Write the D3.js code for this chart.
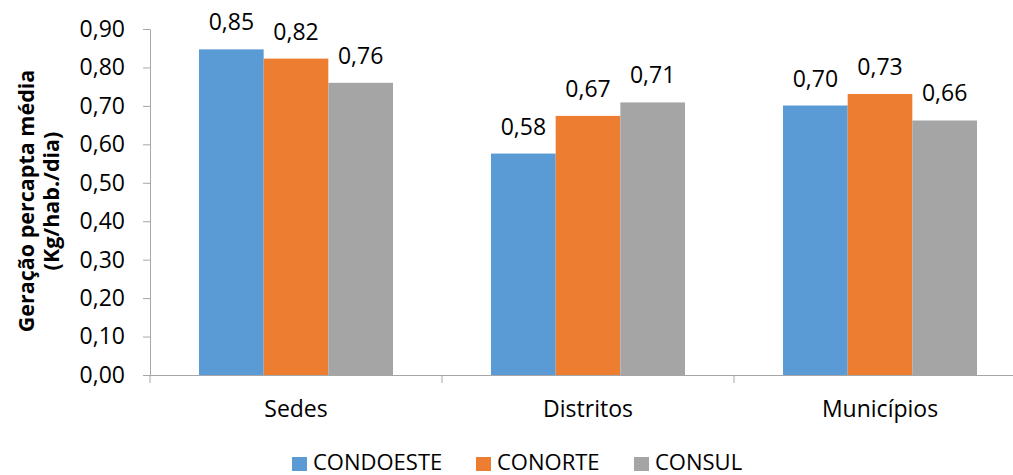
<!DOCTYPE html>
<html><head><meta charset="utf-8">
<script src="https://cdn.jsdelivr.net/npm/d3@7"></script>
<style>body{margin:0;background:#fff}svg{display:block;font-family:"Open Sans",sans-serif}</style>
</head><body>
<svg id="c" width="1013" height="475"></svg>
<script>
const categories = ["Sedes", "Distritos", "Municípios"];
const seriesNames = ["CONDOESTE", "CONORTE", "CONSUL"];
const condoeste = [0.847, 0.576, 0.701];
const conorte = [0.823, 0.674, 0.731];
const consul = [0.760, 0.709, 0.662];
const yTicks = [0, 0.1, 0.2, 0.3, 0.4, 0.5, 0.6, 0.7, 0.8, 0.9];
const colors = ["#5B9BD5", "#ED7D31", "#A5A5A5"];

const values = [condoeste, conorte, consul];
const svg = d3.select("#c");
const fmt = v => v.toFixed(2).replace(".", ",");
const axisColor = "#A6A6A6";

const x0 = d3.scaleBand().domain(categories).range([150, 1026]).paddingInner(0).paddingOuter(0);
const x1 = d3.scaleBand().domain(seriesNames).range([0, x0.bandwidth()]).paddingInner(0).paddingOuter(0.758);
const y = d3.scaleLinear().domain([0, 0.9]).range([375, 29]);

// y axis
const ya = svg.append("g").attr("transform", "translate(150,0)")
  .call(d3.axisLeft(y).tickValues(yTicks).tickFormat(fmt).tickSize(7).tickSizeOuter(0));
ya.select(".domain").attr("stroke", axisColor);
ya.selectAll(".tick line").attr("stroke", axisColor);
ya.selectAll(".tick text").attr("font-size", 23).attr("fill", "#000").attr("x", -25)
  .attr("font-family", "Open Sans");

// bars
categories.forEach((c, i) => {
  const g = svg.append("g").attr("transform", `translate(${x0(c)},0)`);
  seriesNames.forEach((s, j) => {
    const v = values[j][i];
    g.append("rect").attr("x", x1(s)).attr("y", y(v)).attr("width", x1.bandwidth())
      .attr("height", y(0) - y(v)).attr("fill", colors[j]);
    g.append("text").attr("x", x1(s) + x1.bandwidth() / 2).attr("y", y(v) - 19)
      .attr("text-anchor", "middle").attr("font-size", 23).attr("fill", "#000").text(fmt(v));
  });
});

// x axis
const xa = svg.append("g").attr("transform", "translate(0,375)")
  .call(d3.axisBottom(x0).tickSize(0).tickSizeOuter(0));
xa.select(".domain").attr("stroke", axisColor);
xa.selectAll(".tick text").attr("font-size", 23).attr("fill", "#000").attr("y", 26)
  .attr("font-family", "Open Sans");
const bounds = categories.map(c => x0(c)).concat([x0(categories[categories.length - 1]) + x0.bandwidth()]);
bounds.forEach(xv => {
  svg.append("line").attr("x1", xv).attr("x2", xv).attr("y1", 375).attr("y2", 383)
    .attr("stroke", axisColor);
});

// y title
const t = svg.append("text").attr("transform", "translate(34,201) rotate(-90)")
  .attr("text-anchor", "middle").attr("font-size", 21.5).attr("font-weight", "bold").attr("fill", "#000");
t.append("tspan").attr("x", 0).attr("y", 0).text("Geração percapta média");
t.append("tspan").attr("x", 0).attr("y", 25).text("(Kg/hab./dia)");

// legend
const legX = [292, 476, 634];
seriesNames.forEach((s, j) => {
  svg.append("rect").attr("x", legX[j]).attr("y", 457).attr("width", 15).attr("height", 14).attr("fill", colors[j]);
  svg.append("text").attr("x", legX[j] + 21).attr("y", 470).attr("font-size", 22).attr("fill", "#000").text(s);
});
</script>
</body></html>
